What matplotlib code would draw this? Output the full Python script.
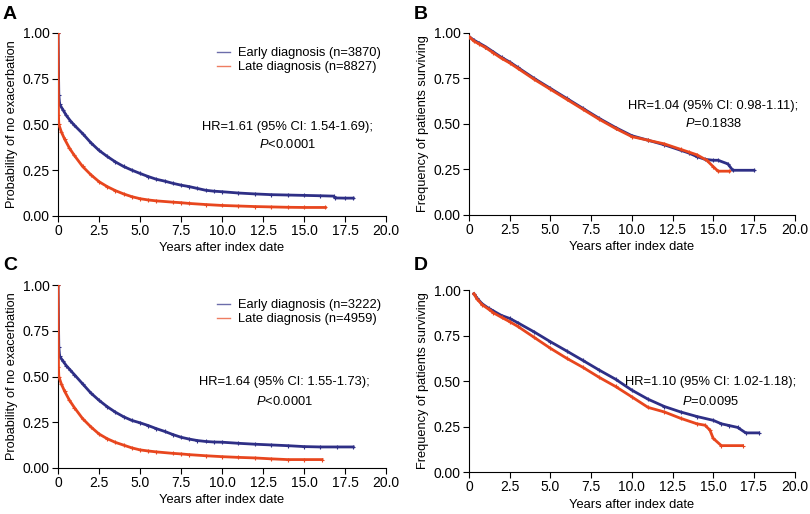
import matplotlib
matplotlib.use("Agg")
import matplotlib.pyplot as plt

plt.rcParams['font.family'] = ['Liberation Sans', 'DejaVu Sans']
plt.rcParams['mathtext.fontset'] = 'custom'
plt.rcParams['mathtext.rm'] = 'Liberation Sans'
plt.rcParams['mathtext.it'] = 'Liberation Sans:italic'

BLUE = '#2e2f86'
RED = '#e8461e'

# panel A: exacerbation, cohort 1
a_early_x = [0, 0.05, 0.1, 0.3, 0.5, 0.75, 1, 1.5, 2, 2.5, 3, 3.5, 4, 4.5, 5, 5.5, 6, 6.5, 7, 7.5, 8, 8.5, 9, 9.5, 10, 11, 12, 13, 14, 15, 16, 16.8, 16.9, 17.5, 18]
a_early_y = [1.0, 0.66, 0.61, 0.58, 0.55, 0.52, 0.495, 0.45, 0.40, 0.358, 0.325, 0.295, 0.27, 0.25, 0.232, 0.215, 0.20, 0.19, 0.178, 0.168, 0.16, 0.15, 0.14, 0.135, 0.132, 0.125, 0.12, 0.116, 0.114, 0.112, 0.11, 0.108, 0.098, 0.097, 0.097]
a_late_x = [0, 0.03, 0.05, 0.2, 0.4, 0.7, 1, 1.5, 2, 2.5, 3, 3.5, 4, 4.5, 5, 5.5, 6, 7, 7.5, 8, 9, 10, 11, 12, 13, 14, 15, 16.3]
a_late_y = [1.0, 0.55, 0.5, 0.46, 0.42, 0.37, 0.33, 0.27, 0.225, 0.187, 0.16, 0.138, 0.12, 0.105, 0.094, 0.087, 0.082, 0.075, 0.072, 0.068, 0.062, 0.057, 0.054, 0.051, 0.049, 0.047, 0.046, 0.046]

# panel B: survival, cohort 1
b_early_x = [0, 0.3, 0.6, 1, 1.5, 2, 2.5, 3, 4, 5, 6, 7, 8, 9, 10, 11, 12, 13, 13.5, 14, 14.5, 15, 15.3, 15.9, 16.2, 17.5]
b_early_y = [0.98, 0.96, 0.945, 0.925, 0.895, 0.865, 0.84, 0.81, 0.75, 0.695, 0.64, 0.585, 0.53, 0.48, 0.435, 0.41, 0.385, 0.355, 0.34, 0.32, 0.305, 0.30, 0.30, 0.28, 0.245, 0.245]
b_late_x = [0, 0.3, 0.6, 1, 1.5, 2, 2.5, 3, 4, 5, 6, 7, 8, 9, 10, 11, 12, 13, 13.5, 14, 14.6, 15, 15.3, 16.0]
b_late_y = [0.98, 0.955, 0.94, 0.92, 0.89, 0.86, 0.835, 0.805, 0.745, 0.69, 0.635, 0.58, 0.525, 0.475, 0.43, 0.41, 0.39, 0.36, 0.345, 0.33, 0.30, 0.265, 0.24, 0.24]

# panel C: exacerbation, cohort 2
c_early_x = [0, 0.05, 0.1, 0.3, 0.5, 0.75, 1, 1.5, 2, 2.5, 3, 3.5, 4, 4.5, 5, 5.5, 6, 6.5, 7, 7.5, 8, 8.5, 9, 9.5, 10, 11, 12, 13, 14, 15, 16, 17, 18]
c_early_y = [1.0, 0.66, 0.61, 0.585, 0.56, 0.535, 0.51, 0.46, 0.41, 0.37, 0.335, 0.305, 0.28, 0.26, 0.247, 0.232, 0.215, 0.2, 0.183, 0.168, 0.158, 0.15, 0.145, 0.142, 0.141, 0.135, 0.13, 0.126, 0.122, 0.117, 0.115, 0.115, 0.115]
c_late_x = [0, 0.03, 0.05, 0.2, 0.4, 0.7, 1, 1.5, 2, 2.5, 3, 3.5, 4, 4.5, 5, 5.5, 6, 7, 7.5, 8, 9, 10, 11, 12, 13, 14, 15, 16.1]
c_late_y = [1.0, 0.55, 0.5, 0.46, 0.42, 0.37, 0.33, 0.27, 0.225, 0.186, 0.16, 0.14, 0.125, 0.11, 0.099, 0.093, 0.088, 0.08, 0.077, 0.073, 0.067, 0.062, 0.058, 0.055, 0.05, 0.046, 0.046, 0.046]

# panel D: survival, cohort 2
d_early_x = [0.3, 0.5, 0.8, 1.2, 1.5, 2, 2.5, 3, 4, 5, 6, 7, 8, 9, 10, 11, 12, 13, 14, 15, 15.5, 16, 16.5, 17, 17.8]
d_early_y = [0.98, 0.955, 0.925, 0.9, 0.885, 0.86, 0.844, 0.82, 0.77, 0.716, 0.665, 0.613, 0.56, 0.51, 0.45, 0.40, 0.36, 0.33, 0.305, 0.284, 0.265, 0.255, 0.245, 0.215, 0.215]
d_late_x = [0.3, 0.5, 0.8, 1.2, 1.5, 2, 2.5, 3, 4, 5, 6, 7, 8, 9, 10, 11, 12, 13, 14, 14.5, 14.8, 15, 15.5, 16.8]
d_late_y = [0.98, 0.95, 0.92, 0.895, 0.875, 0.85, 0.826, 0.8, 0.74, 0.68, 0.625, 0.575, 0.52, 0.47, 0.413, 0.355, 0.33, 0.295, 0.265, 0.257, 0.23, 0.185, 0.145, 0.145]

panels = [
    ('A', [0.0716, 0.580, 0.405, 0.356], a_early_x, a_early_y, a_late_x, a_late_y,
     'Probability of no exacerbation', ('3870', '8827'), 'HR=1.61 (95% CI: 1.54-1.69);', r'$\mathit{P}$<0.0001', (0.70, 0.486, 0.388), 0.988),
    ('B', [0.579, 0.582, 0.402, 0.354], b_early_x, b_early_y, b_late_x, b_late_y,
     'Frequency of patients surviving', None, 'HR=1.04 (95% CI: 0.98-1.11);', r'$\mathit{P}$=0.1838', (0.75, 0.60, 0.50), 0.988),
    ('C', [0.0716, 0.0895, 0.405, 0.356], c_early_x, c_early_y, c_late_x, c_late_y,
     'Probability of no exacerbation', ('3222', '4959'), 'HR=1.64 (95% CI: 1.55-1.73);', r'$\mathit{P}$<0.0001', (0.69, 0.47, 0.366), 0.500),
    ('D', [0.579, 0.0817, 0.402, 0.354], d_early_x, d_early_y, d_late_x, d_late_y,
     'Frequency of patients surviving', None, 'HR=1.10 (95% CI: 1.02-1.18);', r'$\mathit{P}$=0.0095', (0.742, 0.495, 0.385), 0.500),
]

fig = plt.figure(figsize=(8.1, 5.14), dpi=100)
for lab, pos, ex, ey, lx, ly, ylab, ns, hr, pv, tpos, labtop in panels:
    ax = fig.add_axes(pos)
    ax.plot(ex, ey, color=BLUE, lw=2.0, marker='+', ms=3, mew=0.8,
            label='Early diagnosis (n=%s)' % ns[0] if ns else None, zorder=3)
    ax.plot(lx, ly, color=RED, lw=2.0, marker='+', ms=3, mew=0.8,
            label='Late diagnosis (n=%s)' % ns[1] if ns else None, zorder=4)
    ax.set_xlim(0, 20)
    ax.set_ylim(0, 1)
    ax.set_xticks([0, 2.5, 5, 7.5, 10, 12.5, 15, 17.5, 20])
    ax.set_xticklabels(['0', '2.5', '5.0', '7.5', '10.0', '12.5', '15.0', '17.5', '20.0'])
    ax.set_yticks([0, 0.25, 0.5, 0.75, 1.0])
    ax.set_yticklabels(['0.00', '0.25', '0.50', '0.75', '1.00'])
    for s in ('top', 'right'):
        ax.spines[s].set_visible(False)
    ax.tick_params(labelsize=10, length=4, width=0.8, pad=2)
    ax.set_xlabel('Years after index date', fontsize=9.3, labelpad=3)
    ax.set_ylabel(ylab, fontsize=9.2, labelpad=3)
    if ns:
        leg = ax.legend(loc='upper right', bbox_to_anchor=(1.0, 0.95), frameon=False, fontsize=9.3,
                        handlelength=1.0, handletextpad=0.6, borderaxespad=0, labelspacing=0.15)
        for h in leg.get_lines():
            h.set_linewidth(1.0)
            h.set_marker('')
            h.set_alpha(0.7)
    ax.text(tpos[0], tpos[1], hr, transform=ax.transAxes, ha='center', va='center', fontsize=9.3)
    ax.text(tpos[0], tpos[2], pv, transform=ax.transAxes, ha='center', va='center', fontsize=9.3)
    fig.text(pos[0] - 0.068, labtop, lab, fontsize=14, fontweight='bold', ha='left', va='top')

fig.savefig('out.png', dpi=100)
